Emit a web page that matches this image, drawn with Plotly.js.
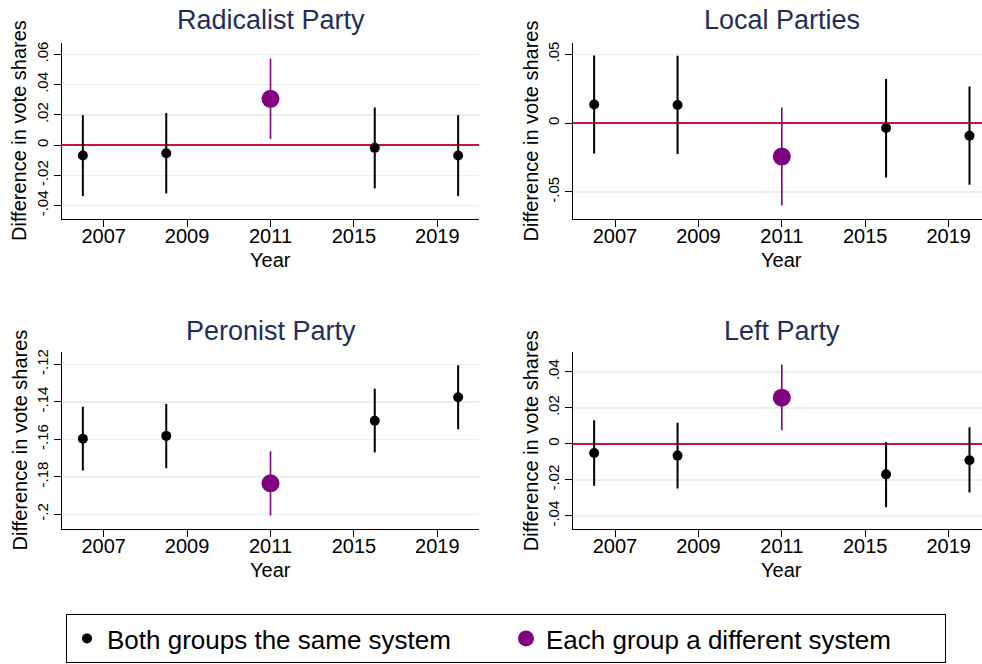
<!DOCTYPE html>
<html>
<head>
<meta charset="utf-8">
<script src="https://cdn.plot.ly/plotly-3.0.1.min.js"></script>
<style>html,body{margin:0;padding:0;background:#fff;overflow:hidden}#chart{width:982px;height:664px}</style>
</head>
<body>
<div id="chart"></div>
<script>
// ---------------- data ----------------
const years = ['2007', '2009', '2011', '2015', '2019'];
const groupOf = ['same', 'same', 'diff', 'same', 'same'];
const seriesNames = {same: 'Both groups the same system', diff: 'Each group a different system'};

const panelTitles = ['Radicalist Party', 'Local Parties', 'Peronist Party', 'Left Party'];

const radicalistEst = [-0.0068, -0.0053, 0.0306, -0.0018, -0.0068];
const radicalistLo  = [-0.0337, -0.0319, 0.0040, -0.0286, -0.0337];
const radicalistHi  = [0.0198, 0.0213, 0.0572, 0.0249, 0.0198];

const localEst = [0.0135, 0.0131, -0.0243, -0.0036, -0.0092];
const localLo  = [-0.0221, -0.0225, -0.0599, -0.0395, -0.0448];
const localHi  = [0.0491, 0.0489, 0.0113, 0.0320, 0.0266];

const peronistEst = [-0.1597, -0.1582, -0.1835, -0.1501, -0.1376];
const peronistLo  = [-0.1767, -0.1755, -0.2007, -0.1671, -0.1547];
const peronistHi  = [-0.1426, -0.1412, -0.1664, -0.1330, -0.1205];

const leftEst = [-0.0050, -0.0065, 0.0257, -0.0169, -0.0091];
const leftLo  = [-0.0233, -0.0248, 0.0076, -0.0352, -0.0270];
const leftHi  = [0.0132, 0.0117, 0.0441, 0.0011, 0.0093];

const radicalistTicks = [-0.04, -0.02, 0, 0.02, 0.04, 0.06];
const radicalistTickText = ['-.04', '-.02', '0', '.02', '.04', '.06'];
const localTicks = [-0.05, 0, 0.05];
const localTickText = ['-.05', '0', '.05'];
const peronistTicks = [-0.2, -0.18, -0.16, -0.14, -0.12];
const peronistTickText = ['-.2', '-.18', '-.16', '-.14', '-.12'];
const leftTicks = [-0.04, -0.02, 0, 0.02, 0.04];
const leftTickText = ['-.04', '-.02', '0', '.02', '.04'];

// ---------------- styling / layout ----------------
const W = 982, H = 664;
const FONT = 'Liberation Sans, Arial, Helvetica, sans-serif';
const xShift = [-0.25, -0.25, 0, 0.25, 0.25];
const colors = {same: '#000000', diff: '#800080'};
const msize = {same: 10, diff: 18};
const ewidth = {same: 2, diff: 1.6};
const titleColor = '#1f2f5c';
const zeroColor = '#c8143c';

const panels = [
  {est: radicalistEst, lo: radicalistLo, hi: radicalistHi, tv: radicalistTicks, tt: radicalistTickText,
   yr: [-0.0488, 0.0675], xr: [0.5, 5.5], xd: [62, 479], yd: [43, 219]},
  {est: localEst, lo: localLo, hi: localHi, tv: localTicks, tt: localTickText,
   yr: [-0.0694, 0.0584], xr: [0.5, 5.4], xd: [573.3, 982], yd: [42.7, 218.7]},
  {est: peronistEst, lo: peronistLo, hi: peronistHi, tv: peronistTicks, tt: peronistTickText,
   yr: [-0.2077, -0.1136], xr: [0.5, 5.5], xd: [62, 479], yd: [352.3, 528.7]},
  {est: leftEst, lo: leftLo, hi: leftHi, tv: leftTicks, tt: leftTickText,
   yr: [-0.0471, 0.0509], xr: [0.5, 5.4], xd: [573.3, 982], yd: [352.3, 528.7]}
];

const traces = [];
const layout = {
  width: W, height: H,
  margin: {l: 0, r: 0, t: 0, b: 0},
  paper_bgcolor: '#fff', plot_bgcolor: '#fff',
  font: {family: FONT, color: '#000'},
  showlegend: true,
  legend: {
    orientation: 'h', x: 66 / W, xanchor: 'left', y: 1 - 614 / H, yanchor: 'top',
    bordercolor: '#000', borderwidth: 1, bgcolor: '#fff',
    font: {family: FONT, size: 26, color: '#000'},
    itemsizing: 'trace', entrywidth: 394, entrywidthmode: 'pixels', traceorder: 'normal'
  },
  annotations: []
};

panels.forEach((p, k) => {
  const n = k + 1;
  const xa = n === 1 ? 'x' : 'x' + n;
  const ya = n === 1 ? 'y' : 'y' + n;
  ['same', 'diff'].forEach(g => {
    const idx = years.map((_, i) => i).filter(i => groupOf[i] === g);
    traces.push({
      type: 'scatter', mode: 'markers', xaxis: xa, yaxis: ya,
      name: seriesNames[g], legendgroup: g, showlegend: k === 0,
      x: idx.map(i => i + 1 + xShift[i]),
      y: idx.map(i => p.est[i]),
      text: idx.map(i => years[i]),
      marker: {color: colors[g], size: msize[g], line: {width: 0}},
      error_y: {type: 'data', symmetric: false,
        array: idx.map(i => p.hi[i] - p.est[i]),
        arrayminus: idx.map(i => p.est[i] - p.lo[i]),
        color: colors[g], thickness: ewidth[g], width: 0}
    });
  });
  const axKey = n === 1 ? '' : String(n);
  layout['xaxis' + axKey] = {
    domain: [p.xd[0] / W, p.xd[1] / W], range: p.xr, anchor: ya,
    tickmode: 'array', tickvals: [1, 2, 3, 4, 5], ticktext: years,
    ticks: 'outside', ticklen: 7, tickwidth: 1, tickcolor: '#000', ticklabelstandoff: -8,
    showline: true, linecolor: '#000', linewidth: 1, showgrid: false, zeroline: false,
    tickfont: {family: FONT, size: 20, color: '#000'}, fixedrange: true
  };
  layout['yaxis' + axKey] = {
    domain: [1 - p.yd[1] / H, 1 - p.yd[0] / H], range: p.yr, anchor: xa,
    tickmode: 'array', tickvals: p.tv, ticktext: p.tt, tickangle: -90,
    ticks: 'outside', ticklen: 7, tickwidth: 1, tickcolor: '#000',
    showline: true, linecolor: '#000', linewidth: 1,
    showgrid: true, gridcolor: '#e8f0f2', gridwidth: 1.5,
    zeroline: true, zerolinecolor: zeroColor, zerolinewidth: 2,
    tickfont: {family: FONT, size: 15, color: '#000'}, fixedrange: true
  };
  const top = k < 2;
  // panel title
  layout.annotations.push({text: panelTitles[k], xref: xa, x: 3, yref: 'paper',
    y: 1 - (top ? 20 : 331) / H, yanchor: 'middle', xanchor: 'center', showarrow: false,
    font: {family: FONT, size: 27, color: titleColor}});
  // x title
  layout.annotations.push({text: 'Year', xref: xa, x: 3, yref: 'paper',
    y: 1 - (top ? 260 : 570) / H, yanchor: 'middle', xanchor: 'center', showarrow: false,
    font: {family: FONT, size: 20, color: '#000'}});
  // y title
  layout.annotations.push({text: 'Difference in vote shares', xref: 'paper',
    x: (k % 2 === 0 ? 19 : 530.7) / W, yref: 'paper', y: 1 - ((p.yd[0] + p.yd[1]) / 2) / H,
    textangle: -90, xanchor: 'center', yanchor: 'middle', showarrow: false,
    font: {family: FONT, size: 20, color: '#000'}});
});

Plotly.newPlot('chart', traces, layout, {displayModeBar: false, staticPlot: true});
</script>
</body>
</html>
